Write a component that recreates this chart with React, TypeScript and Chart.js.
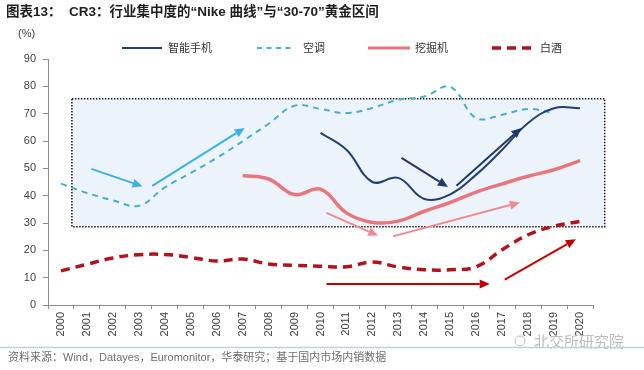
import React, { useEffect, useRef } from 'react';
import { Chart, registerables } from 'chart.js';

Chart.register(...registerables);

const years = ['2000','2001','2002','2003','2004','2005','2006','2007','2008','2009','2010','2011','2012','2013','2014','2015','2016','2017','2018','2019','2020'];
const smartphone = [null,null,null,null,null,null,null,null,null,null,63,56.8,45,46.5,38.8,40.5,47.7,56.8,66.6,72,72];
const airCon = [44.4,41,38.3,36.3,43,48.3,53.8,59.9,66.3,72.9,71.7,70.2,72.1,75.1,76.3,79.8,68.4,69.6,71.7,70.2,null];
const excavator = [null,null,null,null,null,null,null,47.4,46.1,40.4,42.4,33.7,30.2,30.7,34.3,37.5,41.3,44.3,47.1,49.5,52.8];
const baijiu = [12.5,14.9,17.2,18.4,18.5,17.4,16.1,16.8,15,14.5,14.2,14.0,15.7,13.9,12.9,12.9,14.0,20.2,25.7,28.8,30.6];
const yTicks = [0,10,20,30,40,50,60,70,80,90];
const seriesNames = ['智能手机','空调','挖掘机','白酒'];

const titleText = '图表13：  CR3：行业集中度的“Nike 曲线”与“30-70”黄金区间';
const sourceText = '资料来源：Wind，Datayes，Euromonitor，华泰研究；基于国内市场内销数据';
const watermarkText = '北交所研究院';
const unitText = '(%)';

// golden zone in data units: [x index start, x index end, value low, value high]
const zone = [0.42, 20.95, 28.6, 75.5];
// arrows in data units: [x0, y0, x1, y1]
const arrowsBlue = [[1.17,49.8,3.14,43.4],[3.52,43.6,7.08,64.8]];
const arrowsNavy = [[13.12,53.8,14.91,43.2],[15.24,43.6,17.74,64.8]];
const arrowsPink = [[10.23,33.7,12.22,25.4],[12.79,25.1,17.68,37.5]];
const arrowsRed = [[10.23,7.7,16.52,7.7],[17.1,9.3,19.84,24.1]];

const C_NAVY = '#223f6e';
const C_AC = '#4aaed0';
const C_EXC = '#e8767f';
const C_BJ = '#b0131c';
const FONT = '"Liberation Sans", Arial, "Noto Sans CJK SC", sans-serif';
const CJK = '"Noto Sans CJK SC", "Liberation Sans", sans-serif';

function drawArrow(ctx: CanvasRenderingContext2D, x0: number, y0: number, x1: number, y1: number, color: string) {
  const ang = Math.atan2(y1 - y0, x1 - x0);
  const hl = 10, hw = 4.5;
  const bx = x1 - hl * Math.cos(ang), by = y1 - hl * Math.sin(ang);
  ctx.save();
  ctx.strokeStyle = color;
  ctx.fillStyle = color;
  ctx.lineWidth = 2;
  ctx.setLineDash([]);
  ctx.beginPath();
  ctx.moveTo(x0, y0);
  ctx.lineTo(bx, by);
  ctx.stroke();
  ctx.beginPath();
  ctx.moveTo(x1, y1);
  ctx.lineTo(bx + hw * Math.sin(ang), by - hw * Math.cos(ang));
  ctx.lineTo(bx - hw * Math.sin(ang), by + hw * Math.cos(ang));
  ctx.closePath();
  ctx.fill();
  ctx.restore();
}

const decorPlugin = {
  id: 'decor',
  beforeDatasetsDraw(chart: any) {
    const { ctx, scales } = chart;
    const xs = scales.x, ys = scales.y;
    const l = xs.getPixelForValue(zone[0]);
    const r = xs.getPixelForValue(zone[1]);
    const b = ys.getPixelForValue(zone[2]);
    const t = ys.getPixelForValue(zone[3]);
    ctx.save();
    ctx.fillStyle = '#edf3fb';
    ctx.fillRect(l, t, r - l, b - t);
    ctx.strokeStyle = '#1a1a1a';
    ctx.lineWidth = 1.5;
    ctx.setLineDash([1.5, 1.5]);
    ctx.strokeRect(l, t, r - l, b - t);
    ctx.restore();
  },
  afterDatasetsDraw(chart: any) {
    const { ctx, scales } = chart;
    const xs = scales.x, ys = scales.y;
    const groups: [number[][], string][] = [[arrowsBlue, '#3cb2e4'], [arrowsNavy, '#1f3a68'], [arrowsPink, '#f08a92'], [arrowsRed, '#c00000']];
    groups.forEach(([arr, col]) => {
      arr.forEach((a) => {
        drawArrow(ctx, xs.getPixelForValue(a[0]), ys.getPixelForValue(a[1]), xs.getPixelForValue(a[2]), ys.getPixelForValue(a[3]), col);
      });
    });
  },
  afterDraw(chart: any) {
    const { ctx } = chart;
    ctx.save();
    // title
    ctx.fillStyle = '#1e1e1e';
    ctx.font = 'bold 13.5px ' + FONT;
    ctx.textBaseline = 'middle';
    ctx.textAlign = 'left';
    ctx.fillText(titleText, 6, 12);
    // unit
    ctx.fillStyle = '#404040';
    ctx.font = '11px ' + FONT;
    ctx.fillText(unitText, 18, 34);
    // legend
    const leg = [
      { x0: 122, x1: 162, tx: 168, color: C_NAVY, w: 2, dash: [] as number[] },
      { x0: 257, x1: 294, tx: 303, color: C_AC, w: 2, dash: [5, 4.5] },
      { x0: 368, x1: 410, tx: 415, color: C_EXC, w: 3, dash: [] as number[] },
      { x0: 492, x1: 532, tx: 540, color: C_BJ, w: 3.5, dash: [9, 6] },
    ];
    const ly = 48;
    leg.forEach((it, i) => {
      ctx.strokeStyle = it.color;
      ctx.lineWidth = it.w;
      ctx.setLineDash(it.dash);
      ctx.beginPath();
      ctx.moveTo(it.x0, ly);
      ctx.lineTo(it.x1, ly);
      ctx.stroke();
      ctx.setLineDash([]);
      ctx.fillStyle = '#333333';
      ctx.font = '11px ' + CJK;
      ctx.fillText(seriesNames[i], it.tx, ly);
    });
    // watermark
    ctx.fillStyle = '#bcbcbc';
    ctx.font = '15px ' + CJK;
    ctx.fillText(watermarkText, 534, 341);
    ctx.strokeStyle = '#bcbcbc';
    ctx.lineWidth = 1;
    ctx.beginPath();
    ctx.arc(520, 341, 5, 0, Math.PI * 2);
    ctx.stroke();
    // bottom rule
    ctx.strokeStyle = '#bfd0e2';
    ctx.lineWidth = 1.5;
    ctx.beginPath();
    ctx.moveTo(0, 347.5);
    ctx.lineTo(644, 347.5);
    ctx.stroke();
    // source
    ctx.fillStyle = '#6e6e6e';
    ctx.font = '11px ' + FONT;
    ctx.fillText(sourceText, 8, 358);
    ctx.restore();
  },
};

export default function App() {
  const ref = useRef<HTMLCanvasElement | null>(null);
  useEffect(() => {
    if (!ref.current) return;
    Chart.defaults.font.family = FONT;
    const chart = new Chart(ref.current, {
      type: 'line',
      data: {
        labels: years,
        datasets: [
          { label: seriesNames[0], data: smartphone, borderColor: C_NAVY, borderWidth: 2, pointRadius: 0, tension: 0.4, fill: false },
          { label: seriesNames[1], data: airCon, borderColor: C_AC, borderWidth: 2, borderDash: [6, 5], pointRadius: 0, tension: 0.4, fill: false },
          { label: seriesNames[2], data: excavator, borderColor: C_EXC, borderWidth: 3.5, pointRadius: 0, tension: 0.4, fill: false },
          { label: seriesNames[3], data: baijiu, borderColor: C_BJ, borderWidth: 3.5, borderDash: [9, 6], pointRadius: 0, tension: 0.4, fill: false },
        ],
      },
      options: {
        animation: false,
        responsive: true,
        maintainAspectRatio: false,
        layout: { padding: { left: 0, right: 51, top: 59, bottom: 0 } },
        plugins: { legend: { display: false }, tooltip: { enabled: false }, title: { display: false } },
        scales: {
          x: {
            type: 'category',
            offset: true,
            ticks: { minRotation: 90, maxRotation: 90, autoSkip: false, color: '#404040', font: { size: 11 }, padding: 3 },
            grid: { offset: true, drawOnChartArea: false, drawTicks: true, tickLength: 4, color: '#8c8c8c' },
            border: { display: true, color: '#8c8c8c', width: 1 },
            afterFit: (s: any) => { s.height = 65; },
          },
          y: {
            min: 0,
            max: 90,
            afterBuildTicks: (s: any) => { s.ticks = yTicks.map((v) => ({ value: v })); },
            ticks: { color: '#404040', font: { size: 11 }, padding: 7 },
            grid: { drawOnChartArea: false, drawTicks: true, tickLength: 5, color: '#8c8c8c' },
            border: { display: true, color: '#8c8c8c', width: 1 },
            afterFit: (s: any) => { s.width = 48; },
          },
        },
      },
      plugins: [decorPlugin],
    });
    return () => chart.destroy();
  }, []);
  return (
    <div style={{ position: 'absolute', left: 0, top: 0, width: 644, height: 370, background: '#ffffff' }}>
      <canvas ref={ref} />
    </div>
  );
}
